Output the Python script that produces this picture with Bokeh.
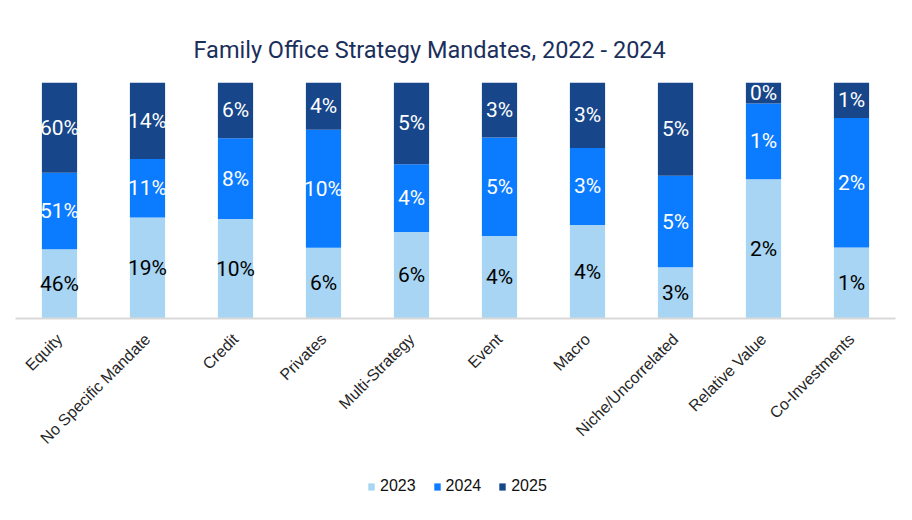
import numpy as np
from bokeh.plotting import figure
from bokeh.layouts import column
from bokeh.models import ColumnDataSource, FactorRange, Range1d, Legend, LegendItem
from bokeh.core.properties import value
from bokeh.embed import file_html
from bokeh.resources import INLINE

# ---- data ----
categories = ["Equity", "No Specific Mandate", "Credit", "Privates", "Multi-Strategy",
              "Event", "Macro", "Niche/Uncorrelated", "Relative Value", "Co-Investments"]
years = ["2023", "2024", "2025"]
v2023 = [46, 19, 10, 6, 5.6, 4.2, 4.0, 2.8, 1.6, 1.1]
v2024 = [51, 11, 8.1, 10, 4.4, 5.0, 3.3, 5.0, 0.87, 2.0]
v2025 = [60, 14.4, 5.6, 4, 5.3, 2.8, 2.8, 5.1, 0.24, 0.55]
title_text = "Family Office Strategy Mandates, 2022 - 2024"

colors = ["#A7D5F3", "#0B7BFF", "#17468A"]
label_colors = ["#000000", "#FFFFFF", "#FFFFFF"]

series = [np.array(v2023, float), np.array(v2024, float), np.array(v2025, float)]
total = series[0] + series[1] + series[2]

data = {"cat": categories}
base = np.zeros(len(categories))
for i, (yr, s) in enumerate(zip(years, series)):
    frac = s / total
    data[yr] = frac
    data["mid%d" % i] = base + frac / 2
    data["lab%d" % i] = ["%d%%" % int(v + 0.5) for v in s]
    base = base + frac
source = ColumnDataSource(data)

W = 904
p = figure(x_range=FactorRange(*categories), y_range=Range1d(0, 1),
           width=W, height=455, output_backend="svg", toolbar_location=None,
           y_axis_location=None, title=title_text,
           min_border_left=15, min_border_right=9, min_border_top=82, min_border_bottom=136)
p.background_fill_color = "white"
p.border_fill_color = "white"
p.outline_line_color = None
p.xgrid.grid_line_color = None
p.ygrid.grid_line_color = None

renderers = p.vbar_stack(years, x="cat", width=0.4, color=colors, line_color=None, source=source)

for i in range(3):
    p.text(x="cat", y="mid%d" % i, text="lab%d" % i, source=source,
           text_align="center", text_baseline="middle",
           text_font=value("Roboto"), text_font_size="21px", text_color=label_colors[i])

ax = p.xaxis[0]
ax.major_label_orientation = np.pi / 4
ax.major_tick_line_color = None
ax.minor_tick_line_color = None
ax.axis_line_color = "#D9D9D9"
ax.axis_line_width = 2
ax.major_label_text_font = "Liberation Sans"
ax.major_label_text_font_size = "16px"
ax.major_label_text_color = "#262626"
ax.major_label_standoff = 12

p.title.align = "left"
p.title.offset = 178
p.title.text_font = "Roboto"
p.title.text_font_size = "23.5px"
p.title.text_font_style = "normal"
p.title.text_color = "#1B2F5B"
p.title.standoff = 38

# ---- legend strip below the chart ----
# The same stacked series are drawn here only to feed the legend swatches;
# the y-range keeps the bars themselves out of this strip's view.
leg = figure(width=W, height=60, output_backend="svg", toolbar_location=None,
             x_range=FactorRange(*categories), y_range=Range1d(5, 6),
             x_axis_location=None, y_axis_location=None,
             min_border=0)
leg.background_fill_color = "white"
leg.border_fill_color = "white"
leg.outline_line_color = None
leg.xgrid.grid_line_color = None
leg.ygrid.grid_line_color = None
swatches = leg.vbar_stack(years, x="cat", width=0.4, color=colors, line_color=None, source=source)

legend = Legend(items=[LegendItem(label=y, renderers=[r]) for y, r in zip(years, swatches)],
                orientation="horizontal", location=(352, 20),
                glyph_width=8, glyph_height=9, label_standoff=5, spacing=17,
                padding=5, margin=0, border_line_color=None,
                label_text_font="Liberation Sans", label_text_font_size="16px",
                label_text_color="#111111", background_fill_alpha=0)
leg.add_layout(legend)

layout = column(p, leg, spacing=0)
open("out.html", "w").write(file_html(layout, INLINE))
